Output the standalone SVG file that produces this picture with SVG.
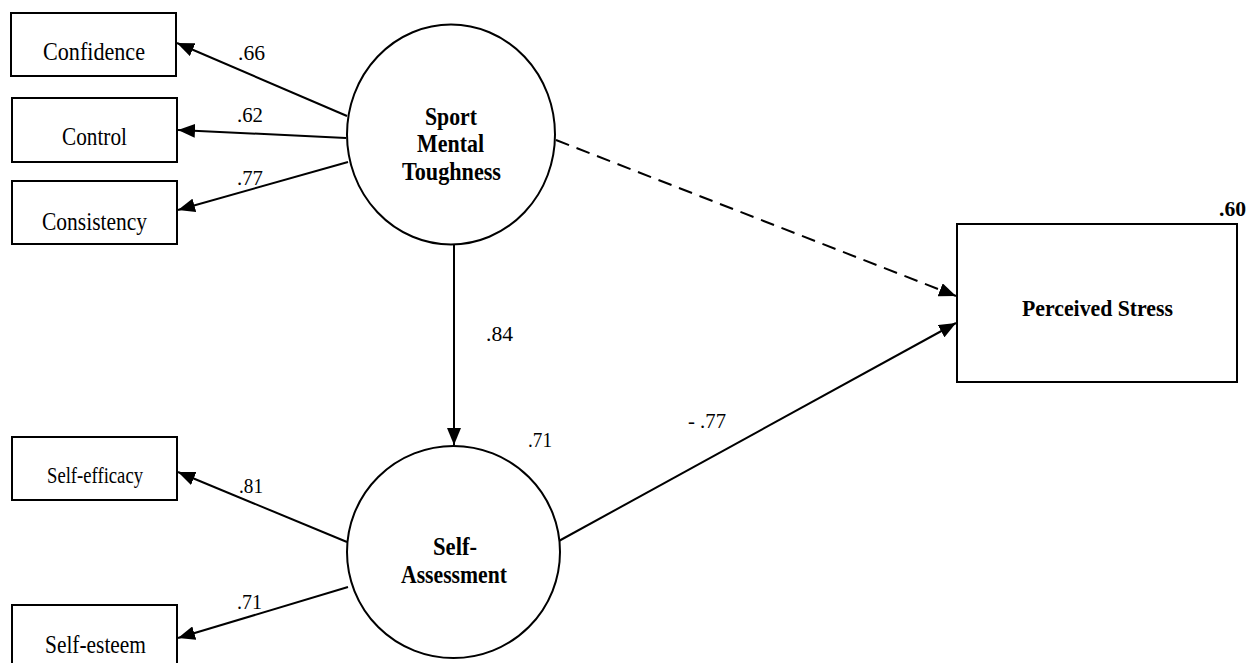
<svg xmlns="http://www.w3.org/2000/svg" width="1248" height="663" viewBox="0 0 1248 663">
<style>
.box{fill:#fff;stroke:#000;stroke-width:2}
.lat{fill:#fff;stroke:#000;stroke-width:2}
.t{font-family:"Liberation Serif","Times New Roman",serif;font-size:25px;fill:#000;text-anchor:middle}
.b{font-weight:bold}
.lbl{font-family:"Liberation Serif","Times New Roman",serif;font-size:21.5px;fill:#000}
.c{fill:none;stroke:#000;stroke-width:2}
.d{stroke-dasharray:14 8}
</style>
<defs>
<marker id="ah" markerUnits="userSpaceOnUse" markerWidth="18" markerHeight="14" refX="17" refY="7" orient="auto">
<path d="M0,0 L17,7 L0,14 z" fill="#000"/>
</marker>
</defs>
<rect width="1248" height="663" fill="#fff"/>
<g id="connectors">
<line class="c" x1="347" y1="116" x2="177" y2="43" marker-end="url(#ah)"/>
<line class="c" x1="346" y1="138" x2="178" y2="130" marker-end="url(#ah)"/>
<line class="c" x1="348" y1="162" x2="178" y2="210" marker-end="url(#ah)"/>
<line class="c d" x1="556" y1="140" x2="956" y2="296" marker-end="url(#ah)"/>
<line class="c" x1="454" y1="245" x2="454" y2="445" marker-end="url(#ah)"/>
<line class="c" x1="557" y1="542" x2="956" y2="323" marker-end="url(#ah)"/>
<line class="c" x1="347" y1="542" x2="178" y2="472" marker-end="url(#ah)"/>
<line class="c" x1="348" y1="587" x2="178" y2="638" marker-end="url(#ah)"/>
<text class="lbl" x="238" y="60" textLength="27" lengthAdjust="spacingAndGlyphs">.66</text>
<text class="lbl" x="237" y="122" textLength="26" lengthAdjust="spacingAndGlyphs">.62</text>
<text class="lbl" x="237" y="185" textLength="26" lengthAdjust="spacingAndGlyphs">.77</text>
<text class="lbl" x="486" y="341" textLength="27" lengthAdjust="spacingAndGlyphs">.84</text>
<text class="lbl" x="528" y="447" textLength="24" lengthAdjust="spacingAndGlyphs">.71</text>
<text class="lbl" x="688" y="428" textLength="38" lengthAdjust="spacingAndGlyphs">- .77</text>
<text class="lbl" x="239" y="493" textLength="24" lengthAdjust="spacingAndGlyphs">.81</text>
<text class="lbl" x="237" y="609" textLength="25" lengthAdjust="spacingAndGlyphs">.71</text>
</g>
<g id="confidence"><rect class="box" x="11" y="13" width="165" height="63"/><text class="t" x="94" y="59.5" textLength="102" lengthAdjust="spacingAndGlyphs">Confidence</text></g>
<g id="control"><rect class="box" x="12" y="98" width="165" height="64"/><text class="t" x="94.5" y="145" textLength="65" lengthAdjust="spacingAndGlyphs">Control</text></g>
<g id="consistency"><rect class="box" x="12" y="181" width="165" height="63"/><text class="t" x="94.5" y="230" textLength="105" lengthAdjust="spacingAndGlyphs">Consistency</text></g>
<g id="smt"><ellipse class="lat" cx="451" cy="134.5" rx="104" ry="110"/>
<text class="t b" x="451" y="125" textLength="52" lengthAdjust="spacingAndGlyphs">Sport</text><text class="t b" x="450.5" y="152" textLength="67" lengthAdjust="spacingAndGlyphs">Mental</text><text class="t b" x="451.5" y="180" textLength="99" lengthAdjust="spacingAndGlyphs">Toughness</text></g>
<g id="stress"><rect class="box" x="957" y="224" width="280" height="158"/><text class="t b" x="1097.5" y="316" style="font-size:23.5px" textLength="151" lengthAdjust="spacingAndGlyphs">Perceived Stress</text>
<text class="lbl b" x="1219" y="216" textLength="27" lengthAdjust="spacingAndGlyphs">.60</text></g>
<g id="selfassess"><ellipse class="lat" cx="453.5" cy="552" rx="106.5" ry="106"/>
<text class="t b" x="455" y="555" style="font-size:24.5px" textLength="44" lengthAdjust="spacingAndGlyphs">Self-</text><text class="t b" x="454" y="583" style="font-size:24.5px" textLength="106" lengthAdjust="spacingAndGlyphs">Assessment</text></g>
<g id="selfefficacy"><rect class="box" x="12" y="437" width="165" height="63"/><text class="t" x="95" y="483" style="font-size:22.5px" textLength="96" lengthAdjust="spacingAndGlyphs">Self-efficacy</text></g>
<g id="selfesteem"><rect class="box" x="12" y="605" width="165" height="70"/><text class="t" x="95.5" y="653" style="font-size:24.5px" textLength="101" lengthAdjust="spacingAndGlyphs">Self-esteem</text></g>
</svg>
